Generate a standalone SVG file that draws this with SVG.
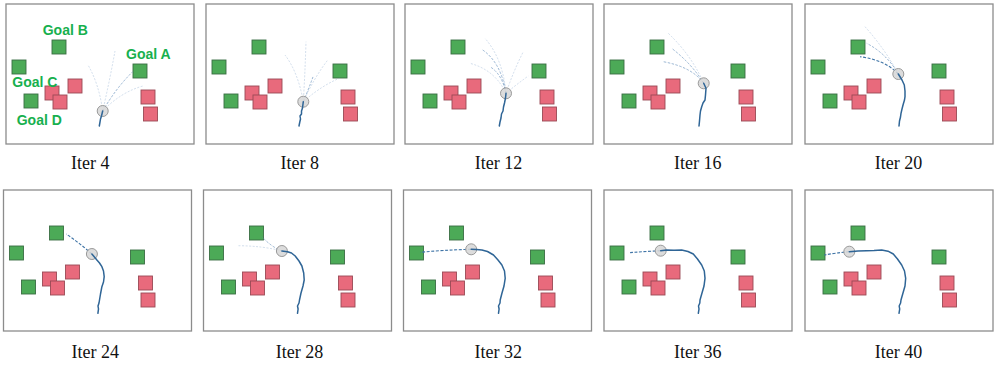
<svg xmlns="http://www.w3.org/2000/svg" xmlns:xlink="http://www.w3.org/1999/xlink" width="997" height="375" viewBox="0 0 997 375">
<style>
.frame{fill:#fff;stroke:#8c8c8c;stroke-width:1.3}
.g{fill:#4caa57;stroke:#3a6e44;stroke-width:0.9}
.r{fill:#e86a7c;stroke:#9a4a56;stroke-width:0.9}
.traj{fill:none;stroke:#2f6596;stroke-width:1.5;stroke-linejoin:round;stroke-linecap:round}
.pd{fill:none;stroke:#3f74a6;stroke-width:1.1;stroke-dasharray:3 1.6}
.pm{fill:none;stroke:#5b88b8;stroke-width:1;stroke-dasharray:2.5 1.5;opacity:0.6}
.pf{fill:none;stroke:#9bb6d4;stroke-width:1;stroke-dasharray:2 1.5;opacity:0.45}
.bot{fill:#d6d6d6;fill-opacity:0.85;stroke:#9a9a9a;stroke-width:1}
.cap{font-family:"Liberation Serif","Times New Roman",serif;font-size:18px;fill:#111;text-anchor:middle}
.gl{font-family:"Liberation Sans",Arial,sans-serif;font-size:14px;font-weight:bold;fill:#17b04e}
</style>
<defs>
<g id="scene">
<rect class="g" x="46" y="36" width="14" height="14"/>
<rect class="g" x="6" y="56" width="14" height="14"/>
<rect class="g" x="127" y="60" width="14" height="14"/>
<rect class="g" x="18" y="90" width="14" height="14"/>
<rect class="r" x="39" y="82" width="14" height="14"/>
<rect class="r" x="47" y="91" width="14" height="14"/>
<rect class="r" x="62" y="75" width="14" height="14"/>
<rect class="r" x="135" y="86" width="14" height="14"/>
<rect class="r" x="137.5" y="103" width="14" height="14"/>
</g>
</defs>

<g id="panel-iter4" transform="translate(6,4)">
<rect class="frame" x="0" y="0" width="188" height="140"/>
<use xlink:href="#scene"/>
<path class="pf" d="M96.7,107 Q93,80 82,61"/>
<path class="pf" d="M96.7,107 Q104,75 109,47"/>
<path class="pf" d="M96.7,107 Q115,88 137,82"/>
<path class="pm" d="M96.7,107 Q110,84 126.7,67.7"/>
<circle class="bot" cx="96.7" cy="107" r="5.5"/>
<polyline class="traj" points="93.3,122 94,118 94.5,115 95.5,112 96.2,109 96.7,107"/>
</g>
<g id="goal-labels">
<text class="gl" x="42.7" y="35">Goal B</text>
<text class="gl" x="126" y="59">Goal A</text>
<text class="gl" x="12.3" y="87">Goal C</text>
<text class="gl" x="16.7" y="125">Goal D</text>
</g>

<g id="panel-iter8" transform="translate(206,4)">
<rect class="frame" x="0" y="0" width="188" height="140"/>
<use xlink:href="#scene"/>
<path class="pf" d="M97.3,97.7 Q92,68 79,51"/>
<path class="pf" d="M97.3,97.7 Q99,70 100,37.7"/>
<path class="pf" d="M97.3,97.7 Q108,74 121.7,56"/>
<path class="pm" d="M97.3,97.7 Q103,84 107.3,72"/>
<path class="pf" d="M97.3,97.7 Q115,82 133.3,74.3"/>
<circle class="bot" cx="97.3" cy="97.7" r="5.5"/>
<polyline class="traj" points="93,122 93.8,118 94.5,115 94,112 95.5,110 95.5,107 96.5,104 97.3,97.7"/>
</g>

<g id="panel-iter12" transform="translate(405,4)">
<rect class="frame" x="0" y="0" width="188" height="140"/>
<use xlink:href="#scene"/>
<path class="pf" d="M101,89.3 Q98,55 80,34.3"/>
<path class="pm" d="M101,89.3 Q96,58 76.7,45.3"/>
<path class="pm" d="M101,89.3 Q97,70 85,62.7"/>
<path class="pf" d="M101,89.3 Q90,66 65,59.3"/>
<path class="pf" d="M101,89.3 Q108,68 118.3,47.7"/>
<path class="pf" d="M101,89.3 Q112,80 123.3,72"/>
<circle class="bot" cx="101" cy="89.3" r="5.5"/>
<polyline class="traj" points="94.3,122 95,118 96,114 96.5,110 98,107 98.5,103 99.5,99 100.5,94 101,89.3"/>
</g>

<g id="panel-iter16" transform="translate(604,4)">
<rect class="frame" x="0" y="0" width="188" height="140"/>
<use xlink:href="#scene"/>
<path class="pf" d="M99.7,79.3 Q88,52 64.3,29.3"/>
<path class="pm" d="M99.7,79.3 Q88,60 67.7,44.3"/>
<path class="pm" d="M99.7,79.3 Q88,63 59.3,57.7"/>
<circle class="bot" cx="99.7" cy="79.3" r="5.5"/>
<polyline class="traj" points="95,122 95.5,117 96,111 96.5,107 97.7,102.7 99,99 101,96 101.5,91 102,84.3 99.7,79.3"/>
</g>

<g id="panel-iter20" transform="translate(805,4)">
<rect class="frame" x="0" y="0" width="188" height="140"/>
<use xlink:href="#scene"/>
<path class="pf" d="M93.3,70 Q80,45 60,22.7"/>
<path class="pm" d="M93.3,70 Q82,50 61.7,39.3"/>
<path class="pd" d="M93.3,70 Q80,56 55,52.7"/>
<circle class="bot" cx="93.3" cy="70" r="5.5"/>
<polyline class="traj" points="94,122 94.5,117 95.5,113 96,109.3 97,105 98.3,100 99.5,96 100,92.7 100,87 99.3,81 97,76 93.3,70"/>
</g>

<g id="panel-iter24" transform="translate(3.5,190)">
<rect class="frame" x="0" y="0" width="188" height="141"/>
<use xlink:href="#scene"/>
<path class="pd" d="M88.4,64 Q76,53 62.7,44"/>
<circle class="bot" cx="88.4" cy="64" r="5.5"/>
<polyline class="traj" points="94.4,123.3 95,119 94.5,116 95.5,113 96,110 97,104 98.4,96.7 100,92 100.7,86.7 100,81 98.4,76.7 96,73 93.4,70 90.5,66.5 88.4,64"/>
</g>

<g id="panel-iter28" transform="translate(203.5,190)">
<rect class="frame" x="0" y="0" width="188" height="141"/>
<use xlink:href="#scene"/>
<path class="pf" d="M78.4,61 Q60,56 35,55.7"/>
<path class="pm" d="M78.4,61 Q68,57 58.4,46.7"/>
<circle class="bot" cx="78.4" cy="61" r="5.5"/>
<polyline class="traj" points="94,123.3 94.6,119 94,116 95.5,113 96,110 97.5,103 99.5,96 100.7,90 100.2,83 98.4,76 95.5,71 91.7,66 88,63 84,61.7 78.4,61"/>
</g>

<g id="panel-iter32" transform="translate(403.5,190)">
<rect class="frame" x="0" y="0" width="188" height="141"/>
<use xlink:href="#scene"/>
<path class="pd" d="M67.7,59.3 Q40,60 16.7,62.3"/>
<circle class="bot" cx="67.7" cy="59.3" r="5.5"/>
<polyline class="traj" points="95,123.3 95.6,119 95,116 96.5,113 96.7,110 98.5,103 100.5,96 101.7,88.3 101,81 98.4,75 94.5,70 90,65 84,61.5 78.4,60 73,59.5 67.7,59.3"/>
</g>

<g id="panel-iter36" transform="translate(604,190)">
<rect class="frame" x="0" y="0" width="188" height="141"/>
<use xlink:href="#scene"/>
<path class="pd" d="M56.7,60.7 Q40,61.5 25.3,62.7"/>
<circle class="bot" cx="56.7" cy="60.7" r="5.5"/>
<polyline class="traj" points="94.3,123.3 95,119 94.5,116 95.8,113 96,110 98,103 100,96 101,88.3 100.3,81 97.7,75 93.5,69 89.3,64 84,61.5 77.7,60 70,60.3 62.7,60 56.7,60.7"/>
</g>

<g id="panel-iter40" transform="translate(805,190)">
<rect class="frame" x="0" y="0" width="188" height="141"/>
<use xlink:href="#scene"/>
<path class="pd" d="M44.3,61.7 Q30,63 19.3,65"/>
<circle class="bot" cx="44.3" cy="61.7" r="5.5"/>
<polyline class="traj" points="94,123.3 94.7,119 94.2,116 95.6,113 96,110 98,103 100,96 100.7,88.3 99.5,81 96.7,75 92.5,69 88.3,64 83,61.2 76.7,60 69,60.5 61.7,60.7 53,61 44.3,61.7"/>
</g>

<g id="captions">
<text class="cap" x="90.3" y="169">Iter 4</text>
<text class="cap" x="299.7" y="169">Iter 8</text>
<text class="cap" x="498.5" y="169">Iter 12</text>
<text class="cap" x="697.8" y="169">Iter 16</text>
<text class="cap" x="898.5" y="169">Iter 20</text>
<text class="cap" x="95.2" y="357.7">Iter 24</text>
<text class="cap" x="299.5" y="357.7">Iter 28</text>
<text class="cap" x="498.3" y="357.7">Iter 32</text>
<text class="cap" x="697.8" y="357.7">Iter 36</text>
<text class="cap" x="898.5" y="357.7">Iter 40</text>
</g>
</svg>
